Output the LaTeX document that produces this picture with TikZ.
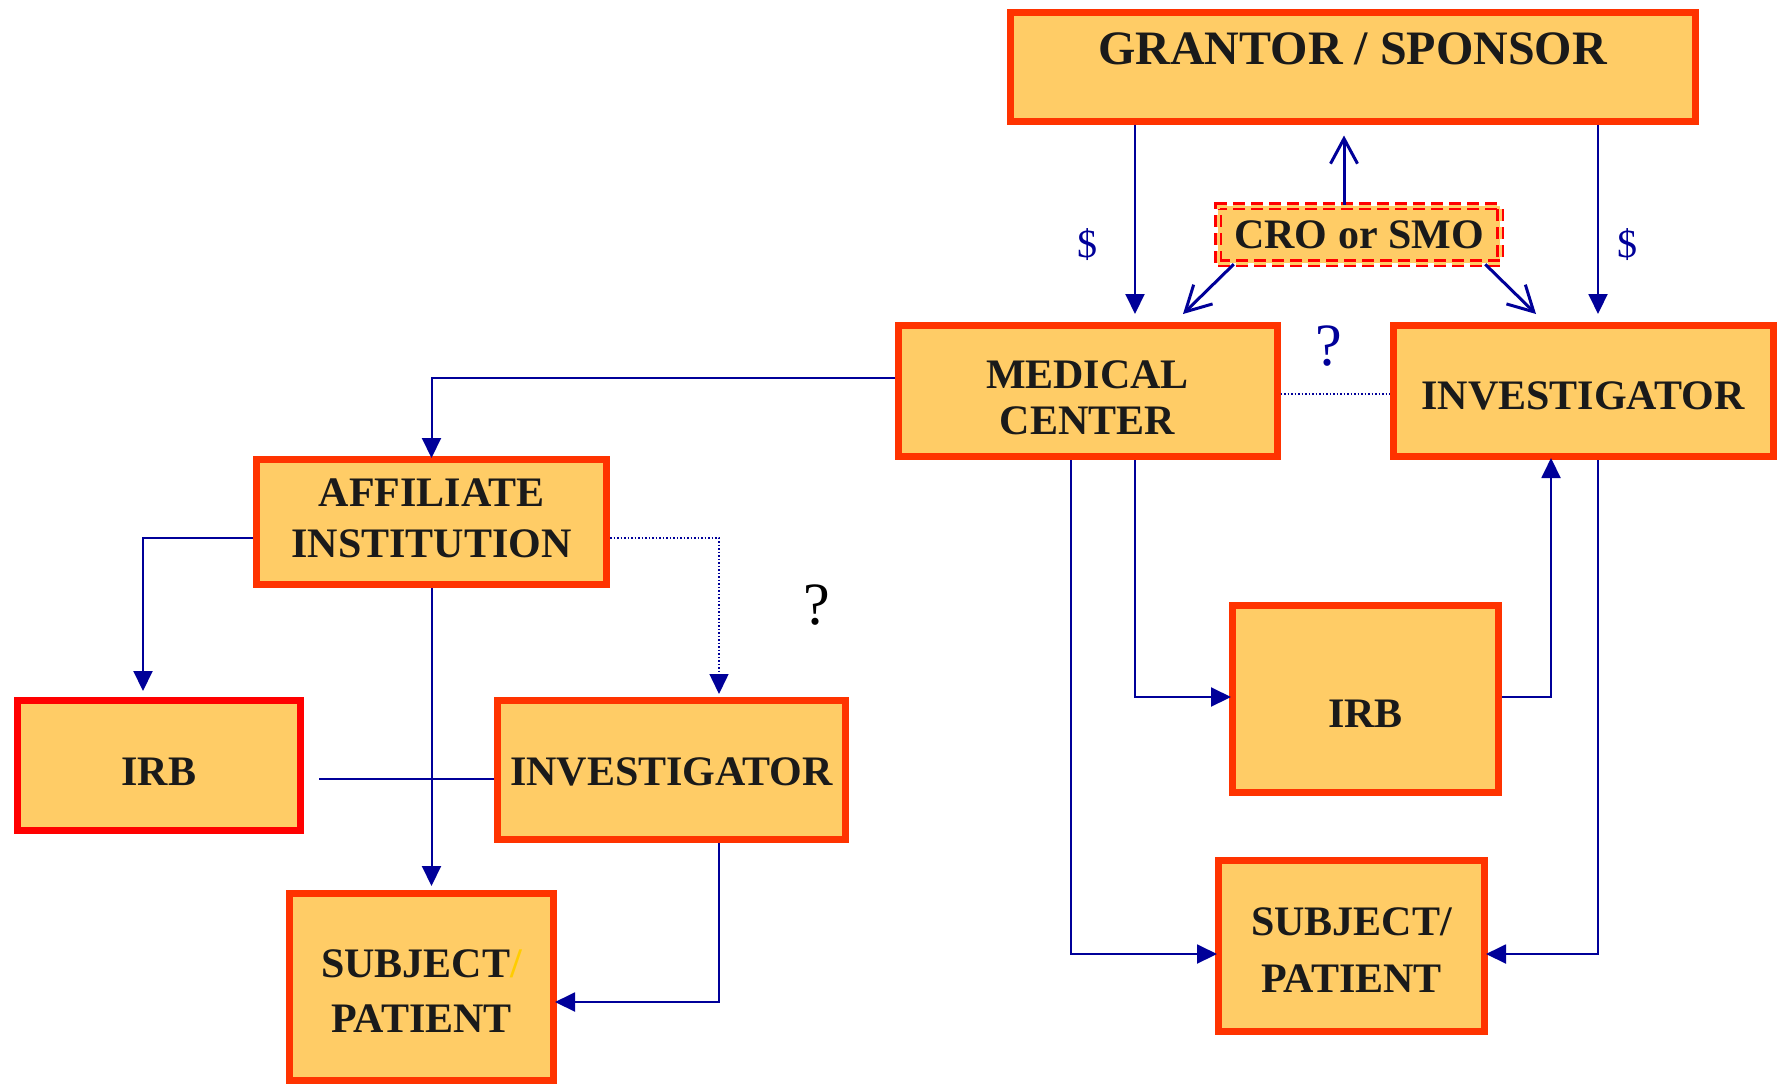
\documentclass[tikz,border=0pt]{standalone}
\usepackage{fontspec}
\setmainfont{Liberation Serif}
\usetikzlibrary{arrows.meta,calc}
\definecolor{boxfill}{HTML}{FFCC66}
\definecolor{boxline}{HTML}{FF3300}
\definecolor{irbline}{HTML}{FF0000}
\definecolor{linkc}{HTML}{000099}
\definecolor{txtc}{HTML}{1A1A1A}
\definecolor{slashc}{HTML}{FFCC00}
\begin{document}
\begin{tikzpicture}[x=1pt,y=-1pt,
  box/.style={draw=boxline, fill=boxfill, line width=7pt, inner sep=0pt},
  lbl/.style={text=txtc, font=\bfseries\fontsize{42}{46}\selectfont, align=center, inner sep=0pt},
  link/.style={draw=linkc, line width=2pt},
  arrow/.style={link, -{Triangle[length=20pt,width=19pt]}, shorten >=-2pt},
  barb/.style={draw=linkc, line width=3pt, -{Straight Barb[length=25pt,width=27pt,line width=3pt]}},
  dotlink/.style={draw=linkc, line width=1.5pt, dotted},
  dollar/.style={text=linkc, font=\fontsize{40}{44}\selectfont, inner sep=0pt},
  qmark/.style={font=\fontsize{60}{64}\selectfont, inner sep=0pt},
]
\path[use as bounding box, fill=white] (0,0) rectangle (1780,1085);

% boxes
\node[box, minimum width=685pt, minimum height=109pt,
      label={[lbl, font=\bfseries\fontsize{48}{52}\selectfont, yshift=17.5pt]center:GRANTOR / SPONSOR}]
      (grantor) at (1352.5,66.5) {};
\node[fill=boxfill, draw=red, dash pattern=on 12pt off 6pt, line width=2.5pt,
      double=boxfill, double distance=3pt, minimum width=282pt, minimum height=57pt,
      inner sep=0pt, text=txtc, font=\bfseries\fontsize{42}{46}\selectfont]
      (cro) at (1359,234.5) {CRO or SMO};
\node[box, minimum width=379pt, minimum height=131pt,
      label={[lbl, yshift=-7pt]center:MEDICAL\\CENTER}]
      (med) at (1087.5,391) {};
\node[box, minimum width=380pt, minimum height=131pt,
      label={[lbl, yshift=-5pt]center:INVESTIGATOR}]
      (invR) at (1583,391) {};
\node[box, minimum width=350pt, minimum height=125pt,
      label={[lbl, yshift=3.5pt]center:AFFILIATE\\[5pt]INSTITUTION}]
      (aff) at (431.5,522) {};
\node[box, draw=irbline, minimum width=283pt, minimum height=130pt,
      label={[lbl, yshift=-6.5pt]center:IRB}]
      (irbL) at (159,765.5) {};
\node[box, minimum width=348pt, minimum height=139pt,
      label={[lbl, yshift=-2pt]center:INVESTIGATOR}]
      (invL) at (671.5,770) {};
\node[box, minimum width=264pt, minimum height=187pt,
      label={[lbl, yshift=-4pt]center:SUBJECT{\color{slashc}/}\\[9pt]PATIENT}]
      (subjL) at (421.5,987) {};
\node[box, minimum width=266pt, minimum height=187pt,
      label={[lbl, yshift=-15pt]center:IRB}]
      (irbR) at (1365.5,699) {};
\node[box, minimum width=266pt, minimum height=171pt,
      label={[lbl, yshift=-4pt]center:SUBJECT/\\[11pt]PATIENT}]
      (subjR) at (1351.5,946) {};

% free labels
\node[dollar] (d1) at (1087,245) {\$};
\node[dollar] (d2) at (1627,245) {\$};
\node[qmark, text=linkc] (q1) at (1329,346) {?};
\node[qmark, text=black] (q2) at (817,605) {?};

% connectors
\coordinate (gA) at ([xshift=-217.5pt]grantor.south);
\draw[arrow, shorten >=8pt] (gA) -- (gA |- med.north);
\coordinate (gB) at ([xshift=245.5pt]grantor.south);
\draw[arrow, shorten >=8pt] (gB) -- (gB |- invR.north);
\coordinate (cA) at ([xshift=-15pt]cro.north);
\draw[barb, shorten >=11pt] (cA) -- (cA |- grantor.south);
\draw[barb] ([xshift=17pt]cro.south west) -- ([xshift=95.5pt,yshift=8pt]med.north);
\draw[barb] ([xshift=-16pt]cro.south east) -- ([xshift=-47pt,yshift=8pt]invR.north);
\draw[dotlink] ([yshift=-3pt]med.east) -- ([yshift=-3pt]invR.west);

\draw[arrow] ([yshift=13pt]med.west) -| (aff.north);
\draw[arrow, shorten >=6pt] ([yshift=-16pt]aff.west) -| ([xshift=-16pt]irbL.north);
\draw[arrow, shorten >=4pt] (aff.south) -- (aff.south |- subjL.north);
\draw[dotlink, -{Triangle[length=20pt,width=19pt]}, shorten >=3pt] ([yshift=-16pt]aff.east) -| ([xshift=47.5pt]invL.north);
\coordinate (irbLr) at ([xshift=15pt,yshift=-13.5pt]irbL.east);
\draw[link] (irbLr) -- (irbLr -| invL.west);
\draw[arrow] ([xshift=47.5pt]invL.south) |- ([yshift=-15pt]subjL.east);

\draw[arrow] ([xshift=-16.5pt]med.south) |- ([yshift=-8pt]subjR.west);
\draw[arrow] ([xshift=47.5pt]med.south) |- ([yshift=2pt]irbR.west);
\draw[arrow] ([yshift=2pt]irbR.east) -| ([xshift=-32pt]invR.south);
\draw[arrow] ([xshift=15pt]invR.south) |- ([yshift=-8pt]subjR.east);
\end{tikzpicture}
\end{document}
